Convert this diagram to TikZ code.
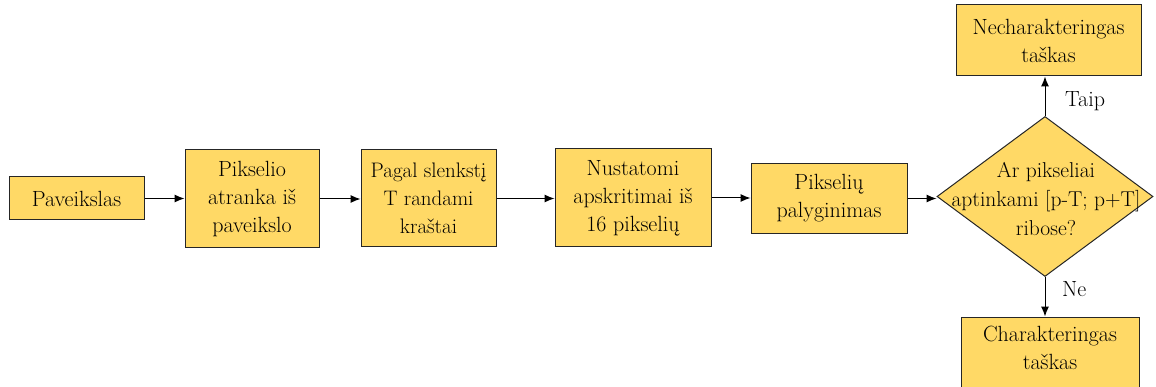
\documentclass[tikz,border=0pt]{standalone}
\usepackage{fontspec}
\usetikzlibrary{shapes.geometric,arrows.meta}
\definecolor{boxfill}{HTML}{FFD966}
\definecolor{boxline}{HTML}{262626}
\tikzset{
  stepbox/.style={draw=boxline, fill=boxfill, line width=1pt, align=center, inner sep=0pt,
    font=\rmfamily\fontsize{22}{28}\selectfont},
  decision/.style={draw=boxline, fill=boxfill, line width=1pt, diamond, inner sep=0pt},
  conn/.style={draw=black, line width=1pt, -{Latex[length=10pt,width=8pt]}},
  lbl/.style={font=\rmfamily\fontsize{22}{28}\selectfont, inner sep=0pt, anchor=west}
}
\begin{document}
\begin{tikzpicture}[x=1pt,y=-1pt]
\useasboundingbox (0,0) rectangle (1156,387);
\node[stepbox, minimum width=135, minimum height=43] (a) at (76.5,198.5) {Paveikslas};
\node[stepbox, minimum width=134, minimum height=98] (b) at (252,199) {Pikselio\\atranka iš\\paveikslo};
\node[stepbox, minimum width=135, minimum height=97, font=\rmfamily\fontsize{21}{28}\selectfont] (c) at (428.5,198.5) {Pagal slenkstį\\T randami\\kraštai};
\node[stepbox, minimum width=156, minimum height=98] (d) at (633,198) {Nustatomi\\apskritimai iš\\16 pikselių};
\node[stepbox, minimum width=156, minimum height=70] (e) at (829,198.5) {Pikselių\\palyginimas};
\node[decision, minimum width=216, minimum height=160] (f) at (1045,196.5) {};
\node[stepbox, font=\rmfamily\fontsize{21.5}{29}\selectfont, fill=none, draw=none] (ft) at (1046,199) {Ar pikseliai\\aptinkami [p-T; p+T]\\ribose?};
\node[stepbox, minimum width=185, minimum height=71] (g) at (1048.5,40.5) {Necharakteringas\\taškas};
\node[stepbox, minimum width=178, minimum height=90] (h) at (1050,362) {};
\node[stepbox, fill=none, draw=none] (ht) at (1050,348) {Charakteringas\\taškas};
\draw[conn] (a.east) -- (b.west |- a.east);
\draw[conn] (b.east) -- (c.west |- b.east);
\draw[conn] (c.east) -- (d.west |- c.east);
\draw[conn] (d.east) -- (e.west |- d.east);
\draw[conn] (e.east) -- (f.west |- e.east);
\draw[conn] (f.north) -- (g.south -| f.north);
\draw[conn] (f.south) -- (h.north -| f.south);
\node[lbl] (taip) at (1065,101) {Taip};
\node[lbl] (ne) at (1062,289) {Ne};
\end{tikzpicture}
\end{document}
